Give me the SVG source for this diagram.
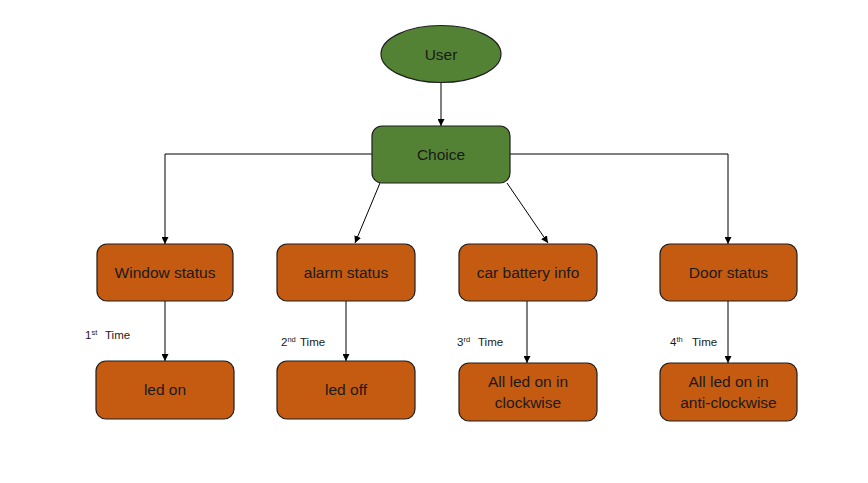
<svg xmlns="http://www.w3.org/2000/svg" width="868" height="483" viewBox="0 0 868 483">
<style>
.g{fill:#548235;stroke:#1e1e1e;stroke-width:1.2}
.o{fill:#C55A11;stroke:#1e1e1e;stroke-width:1.2}
.t{font-family:"Liberation Sans",Arial,sans-serif;font-size:15.5px;fill:#1a1a1a;text-anchor:middle}
.l{font-family:"Liberation Sans",Arial,sans-serif;font-size:11.5px;fill:#1a1a1a}
.s{font-size:7.5px}
.c{fill:none;stroke:#000;stroke-width:1;marker-end:url(#a)}
</style>
<defs>
<marker id="a" viewBox="0 0 10 10" refX="10" refY="5" markerWidth="7" markerHeight="7" orient="auto" markerUnits="userSpaceOnUse">
<path d="M0,0 L10,5 L0,10 z" fill="#000"/>
</marker>
</defs>
<rect width="868" height="483" fill="#fff"/>
<g id="connectors">
<line class="c" x1="441" y1="83" x2="441" y2="126"/>
<polyline class="c" points="372,154 165,154 165,244"/>
<polyline class="c" points="510,154 728,154 728,244"/>
<line class="c" x1="380" y1="183" x2="355" y2="243"/>
<line class="c" x1="507" y1="183" x2="548" y2="243"/>
<line class="c" x1="165" y1="301" x2="165" y2="361"/>
<line class="c" x1="346" y1="301" x2="346" y2="361"/>
<line class="c" x1="527" y1="301" x2="527" y2="363"/>
<line class="c" x1="728" y1="301" x2="728" y2="363"/>
</g>
<g id="user"><ellipse class="g" cx="441" cy="54" rx="60" ry="28.5"/><text class="t" x="441" y="59.5">User</text></g>
<g id="choice"><rect class="g" x="372" y="126" width="138" height="57" rx="10"/><text class="t" x="441" y="159.5">Choice</text></g>
<g id="window"><rect class="o" x="97" y="244" width="136" height="57" rx="10"/><text class="t" x="165" y="278">Window status</text></g>
<g id="alarm"><rect class="o" x="277" y="244" width="138" height="57" rx="10"/><text class="t" x="346" y="278">alarm status</text></g>
<g id="battery"><rect class="o" x="459" y="244" width="138" height="57" rx="10"/><text class="t" x="528" y="278">car battery info</text></g>
<g id="door"><rect class="o" x="660" y="244" width="137" height="57" rx="10"/><text class="t" x="728.5" y="278">Door status</text></g>
<g id="ledon"><rect class="o" x="96" y="361" width="138" height="58" rx="10"/><text class="t" x="165" y="395">led on</text></g>
<g id="ledoff"><rect class="o" x="277" y="361" width="138" height="58" rx="10"/><text class="t" x="346" y="395">led off</text></g>
<g id="clockwise"><rect class="o" x="459" y="363" width="138" height="58" rx="10"/><text class="t" x="528" y="387">All led on in</text><text class="t" x="528" y="408">clockwise</text></g>
<g id="anticlockwise"><rect class="o" x="660" y="363" width="137" height="58" rx="10"/><text class="t" x="728.5" y="387">All led on in</text><text class="t" x="728.5" y="408">anti-clockwise</text></g>
<g id="labels">
<text class="l" x="85" y="339">1<tspan class="s" dy="-4">st</tspan><tspan dy="4" x="105">Time</tspan></text>
<text class="l" x="281" y="346">2<tspan class="s" dy="-4">nd</tspan><tspan dy="4" x="300">Time</tspan></text>
<text class="l" x="457" y="346">3<tspan class="s" dy="-4">rd</tspan><tspan dy="4" x="478">Time</tspan></text>
<text class="l" x="670" y="346">4<tspan class="s" dy="-4">th</tspan><tspan dy="4" x="692">Time</tspan></text>
</g>
</svg>
